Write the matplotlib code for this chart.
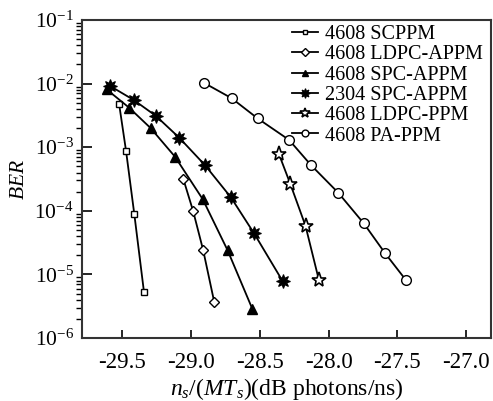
import matplotlib
matplotlib.use("Agg")
import matplotlib.pyplot as plt
from matplotlib.ticker import LogLocator, NullFormatter, FixedLocator

plt.rcParams['font.family'] = ['Liberation Serif', 'DejaVu Serif']
plt.rcParams['mathtext.fontset'] = 'custom'
plt.rcParams['mathtext.rm'] = 'Liberation Serif'
plt.rcParams['mathtext.it'] = 'Liberation Serif:italic'

# BER curves: x in dB photons/ns, y = bit error rate
scppm_x = [-29.52, -29.47, -29.41, -29.34]
scppm_y = [4.7e-3, 8.7e-4, 8.8e-5, 5.3e-6]

ldpc_appm_x = [-29.055, -28.983, -28.91, -28.83]
ldpc_appm_y = [3.2e-4, 9.9e-5, 2.4e-5, 3.7e-6]

spc_appm_4608_x = [-29.611, -29.449, -29.292, -29.115, -28.914, -28.733, -28.554]
spc_appm_4608_y = [8.1e-3, 4.2e-3, 2.0e-3, 7.1e-4, 1.53e-4, 2.4e-5, 2.9e-6]

spc_appm_2304_x = [-29.587, -29.413, -29.253, -29.084, -28.898, -28.709, -28.54, -28.334]
spc_appm_2304_y = [9.2e-3, 5.5e-3, 3.1e-3, 1.41e-3, 5.25e-4, 1.63e-4, 4.4e-5, 7.9e-6]

ldpc_ppm_x = [-28.361, -28.276, -28.167, -28.07]
ldpc_ppm_y = [7.9e-4, 2.6e-4, 5.8e-5, 8.2e-6]

pa_ppm_x = [-28.905, -28.704, -28.515, -28.286, -28.128, -27.93, -27.744, -27.589, -27.439]
pa_ppm_y = [1.03e-2, 5.9e-3, 2.84e-3, 1.30e-3, 5.25e-4, 1.93e-4, 6.35e-5, 2.15e-5, 8.2e-6]

labels = ["4608 SCPPM", "4608 LDPC-APPM", "4608 SPC-APPM",
          "2304 SPC-APPM", "4608 LDPC-PPM", "4608 PA-PPM"]
x_ticks = [-29.5, -29.0, -28.5, -28.0, -27.5, -27.0]

fig = plt.figure(figsize=(4.93, 4.01), dpi=100)
ax = fig.add_axes([82 / 493, 1 - 338 / 401, 409 / 493, 318 / 401])

lw = 1.3
ax.plot(scppm_x, scppm_y, color='k', lw=lw, marker='s', ms=4.5,
        mfc='white', mec='k', mew=1.0, label=labels[0])
ax.plot(ldpc_appm_x, ldpc_appm_y, color='k', lw=lw, marker='D', ms=5.5,
        mfc='white', mec='k', mew=1.0, label=labels[1])
ax.plot(spc_appm_4608_x, spc_appm_4608_y, color='k', lw=lw, marker='^', ms=6.5,
        mfc='k', mec='k', label=labels[2])
ax.plot(spc_appm_2304_x, spc_appm_2304_y, color='k', lw=lw, marker=(8, 1, 0), ms=10,
        mfc='k', mec='k', mew=0.8, label=labels[3])
ax.plot(ldpc_ppm_x, ldpc_ppm_y, color='k', lw=lw, marker='*', ms=11,
        mfc='white', mec='k', mew=1.2, label=labels[4])
ax.plot(pa_ppm_x, pa_ppm_y, color='k', lw=lw, marker='o', ms=7,
        mfc='white', mec='k', mew=1.0, label=labels[5])

ax.set_yscale('log')
ax.set_ylim(1e-6, 1e-1)
ax.set_xlim(-29.79, -26.82)
ax.xaxis.set_major_locator(FixedLocator(x_ticks))
ax.set_xticklabels([f"{v:.1f}" for v in x_ticks])
ax.yaxis.set_major_locator(LogLocator(base=10, numticks=10))
ax.yaxis.set_minor_locator(LogLocator(base=10, subs=range(2, 10), numticks=20))
ax.yaxis.set_minor_formatter(NullFormatter())

ax.tick_params(axis='both', direction='in', colors='k')
ax.tick_params(axis='x', which='major', length=6, width=1.2, top=False, pad=10,
               labelsize=16.5)
ax.tick_params(axis='y', which='major', length=7, width=1.2, right=False, pad=6,
               labelsize=15.5)
ax.tick_params(axis='y', which='minor', length=4, width=1.0, right=False)
ax.tick_params(axis='x', which='minor', bottom=False, top=False)
for s in ax.spines.values():
    s.set_linewidth(1.5)
    s.set_color('#333333')

ax.set_xlabel(r"$n_s/(MT_s)$(dB photons/ns)", fontsize=17, labelpad=2)
ax.set_ylabel(r"$BER$", fontsize=15.5, labelpad=4)

leg = ax.legend(loc='upper right', frameon=False, fontsize=14.5, handlelength=1.3,
                handletextpad=0.35, labelspacing=0.06, markerscale=0.7,
                borderaxespad=0.0, bbox_to_anchor=(1.0, 1.01))

fig.savefig("out.png", dpi=100)
